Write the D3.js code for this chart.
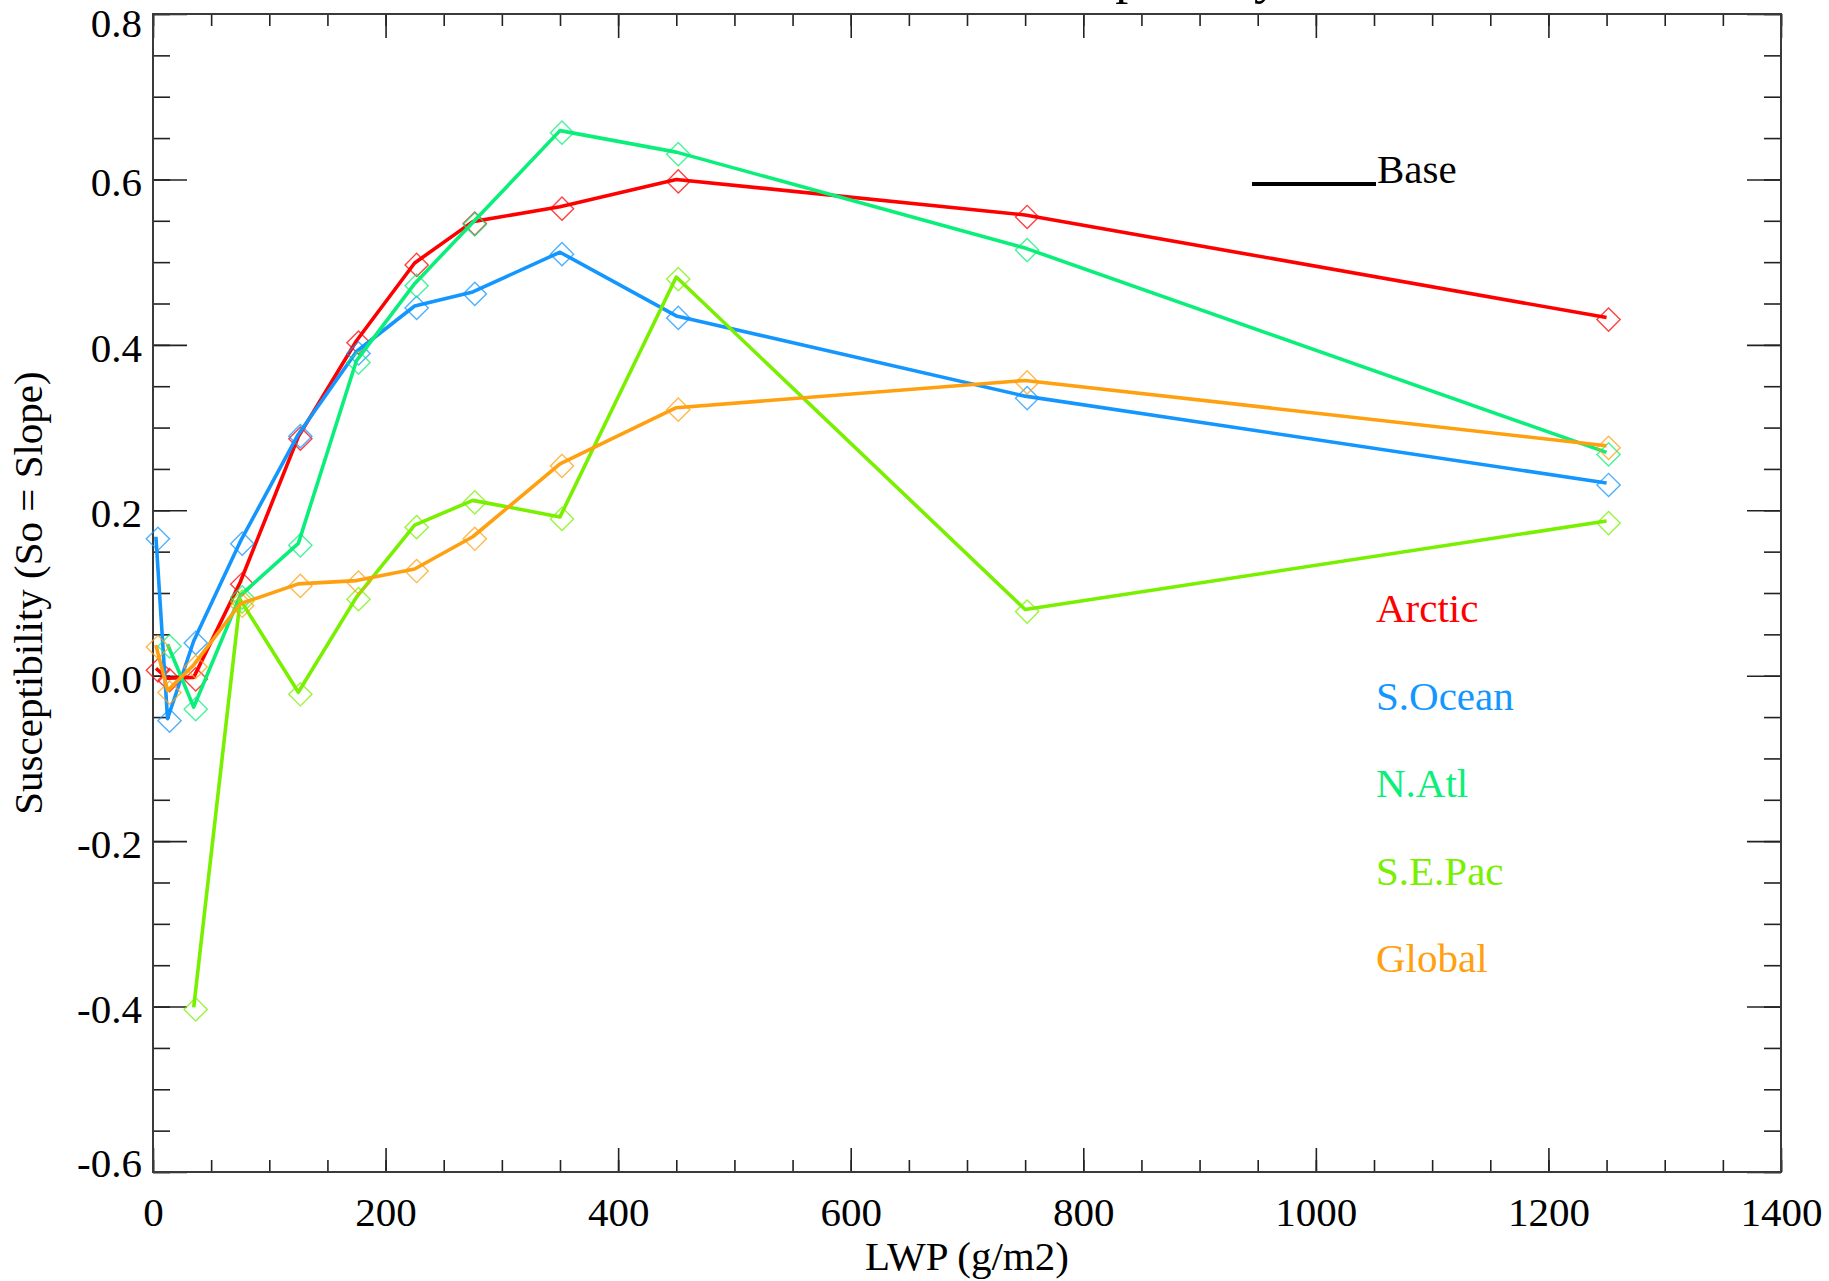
<!DOCTYPE html>
<html>
<head>
<meta charset="utf-8">
<script src="https://cdn.jsdelivr.net/npm/d3@7/dist/d3.min.js"></script>
<style>
  html, body { margin: 0; padding: 0; background: #ffffff; }
  svg { display: block; }
  text { font-family: "Liberation Serif", "Times New Roman", serif; }
</style>
</head>
<body>
<svg id="chart" width="1829" height="1281"></svg>
<script>
// LWP bin centres (g/m2)
const lwp = [2.5, 12.5, 35, 75, 125, 175, 225, 275, 350, 450, 750, 1250];

// Susceptibility per region (null = no value in that bin)
const arctic = [0.009, -0.003, -0.002, 0.113, 0.289, 0.405, 0.499, 0.549, 0.567, 0.600, 0.557, 0.433];
const sOcean = [0.168, -0.052, 0.042, 0.162, 0.292, 0.392, 0.447, 0.464, 0.512, 0.435, 0.338, 0.233];
const nAtl   = [null, 0.038, -0.038, 0.097, 0.160, 0.381, 0.474, 0.548, 0.659, 0.633, 0.517, 0.270];
const sePac  = [null, null, -0.401, 0.092, -0.020, 0.095, 0.182, 0.212, 0.192, 0.482, 0.080, 0.187];
const globalS = [0.037, -0.018, 0.013, 0.087, 0.111, 0.115, 0.129, 0.168, 0.256, 0.324, 0.357, 0.278];

const seriesNames = ["Arctic", "S.Ocean", "N.Atl", "S.E.Pac", "Global"];
const seriesValues = [arctic, sOcean, nAtl, sePac, globalS];
const seriesColors = ["#ff0000", "#1496ff", "#0aef7a", "#78f000", "#ffa010"];

// Axis ticks
const xMajorTicks = [0, 200, 400, 600, 800, 1000, 1200, 1400];
const xMinorTicks = d3.range(0, 1401, 50);
const yMajorTicks = [-0.6, -0.4, -0.2, 0.0, 0.2, 0.4, 0.6, 0.8];
const yMinorTicks = d3.range(-12, 17).map(i => +(i * 0.05).toFixed(2));

const titleText = "Susceptibility";
const xTitle = "LWP (g/m2)";
const yTitle = "Susceptibility (So = Slope)";
const baseLabel = "Base";

const svg = d3.select("#chart");
const L = 153, R = 1781, T = 14, B = 1172;

const x = d3.scaleLinear().domain([0, 1400]).range([L, R]);
const y = d3.scaleLinear().domain([-0.6, 0.8]).range([B, T]);

svg.append("rect").attr("width", 1829).attr("height", 1281).attr("fill", "#fff");

// Title (sits above the top edge of the page)
svg.append("text")
  .attr("x", 994).attr("y", -7)
  .attr("font-size", 52).attr("fill", "#000")
  .text(titleText);

const tickColor = "#222";
function styleAxis(g) {
  g.select(".domain").remove();
  g.selectAll(".tick line").attr("stroke", tickColor).attr("stroke-width", 1.6);
  g.selectAll(".tick text")
    .attr("fill", "#000")
    .attr("font-family", "'Liberation Serif', 'Times New Roman', serif")
    .attr("font-size", 41);
}

// Bottom axis: major ticks with labels, minor ticks
svg.append("g").attr("transform", `translate(0,${B})`)
  .call(d3.axisBottom(x).tickValues(xMinorTicks).tickSize(-12).tickFormat(""))
  .call(styleAxis);
svg.append("g").attr("transform", `translate(0,${B})`)
  .call(d3.axisBottom(x).tickValues(xMajorTicks).tickSize(-24).tickPadding(25).tickFormat(d3.format("d")))
  .call(styleAxis);

// Top axis
svg.append("g").attr("transform", `translate(0,${T})`)
  .call(d3.axisTop(x).tickValues(xMinorTicks).tickSize(-12).tickFormat(""))
  .call(styleAxis);
svg.append("g").attr("transform", `translate(0,${T})`)
  .call(d3.axisTop(x).tickValues(xMajorTicks).tickSize(-24).tickFormat(""))
  .call(styleAxis);

// Left axis
svg.append("g").attr("transform", `translate(${L},0)`)
  .call(d3.axisLeft(y).tickValues(yMinorTicks).tickSize(-17).tickFormat(""))
  .call(styleAxis);
const leftMajor = svg.append("g").attr("transform", `translate(${L},0)`)
  .call(d3.axisLeft(y).tickValues(yMajorTicks).tickSize(-34).tickPadding(11)
        .tickFormat(d => d.toFixed(1)))
  .call(styleAxis);
// end labels are kept inside the axis span
leftMajor.selectAll(".tick text")
  .attr("dy", d => d === 0.8 ? "0.56em" : d === -0.6 ? "0.10em" : "0.40em");

// Right axis
svg.append("g").attr("transform", `translate(${R},0)`)
  .call(d3.axisRight(y).tickValues(yMinorTicks).tickSize(-17).tickFormat(""))
  .call(styleAxis);
svg.append("g").attr("transform", `translate(${R},0)`)
  .call(d3.axisRight(y).tickValues(yMajorTicks).tickSize(-34).tickFormat(""))
  .call(styleAxis);

// Plot frame
svg.append("rect")
  .attr("x", L).attr("y", T).attr("width", R - L).attr("height", B - T)
  .attr("fill", "none").attr("stroke", "#3a3a3a").attr("stroke-width", 2);

// Axis titles
svg.append("text")
  .attr("x", (L + R) / 2).attr("y", 1270)
  .attr("text-anchor", "middle").attr("font-size", 41).attr("fill", "#000")
  .text(xTitle);
svg.append("text")
  .attr("transform", `translate(42,${(T + B) / 2}) rotate(-90)`)
  .attr("text-anchor", "middle").attr("font-size", 41).attr("fill", "#000")
  .text(yTitle);

// Series lines and diamond markers
const line = d3.line()
  .defined(d => d.v !== null)
  .x(d => x(d.lwp)).y(d => y(d.v));
const diamond = d3.symbol().type(d3.symbolSquare).size(270);

seriesValues.forEach((vals, i) => {
  const pts = lwp.map((l, j) => ({ lwp: l, v: vals[j] }));
  const g = svg.append("g").attr("class", "series");
  g.append("path")
    .datum(pts)
    .attr("fill", "none")
    .attr("stroke", seriesColors[i])
    .attr("stroke-width", 3.6)
    .attr("stroke-linejoin", "round")
    .attr("d", line);
  g.selectAll("path.marker")
    .data(pts.filter(d => d.v !== null))
    .join("path")
    .attr("class", "marker")
    .attr("d", diamond)
    .attr("transform", d => `translate(${x(d.lwp) + 2},${y(d.v) + 2}) rotate(45)`)
    .attr("fill", "none")
    .attr("stroke", seriesColors[i])
    .attr("stroke-opacity", 0.75)
    .attr("stroke-width", 1.4);
});

// Legend
svg.append("line")
  .attr("x1", 1252).attr("x2", 1376).attr("y1", 184).attr("y2", 184)
  .attr("stroke", "#000").attr("stroke-width", 4);
svg.append("text")
  .attr("x", 1377).attr("y", 183)
  .attr("font-size", 41).attr("fill", "#000")
  .text(baseLabel);

svg.selectAll("text.legend")
  .data(seriesNames)
  .join("text")
  .attr("class", "legend")
  .attr("x", 1376)
  .attr("y", (d, i) => 622 + i * 87.5)
  .attr("font-size", 41)
  .attr("fill", (d, i) => seriesColors[i])
  .text(d => d);
</script>
</body>
</html>
